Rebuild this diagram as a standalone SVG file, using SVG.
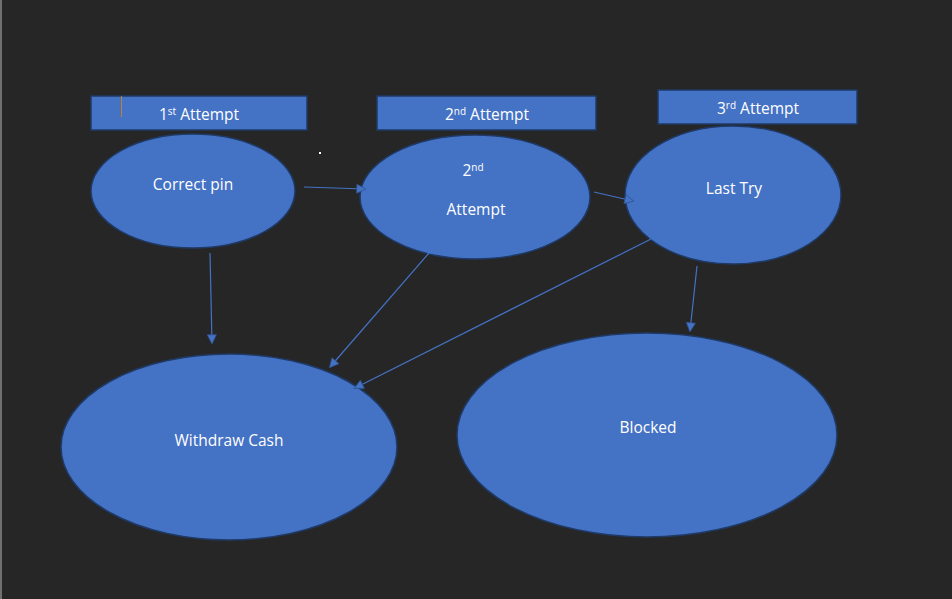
<svg xmlns="http://www.w3.org/2000/svg" width="952" height="599" viewBox="0 0 952 599">
<style>
.bg{fill:#262626}
.shape{fill:#4472C4;stroke:#1F3A66;stroke-width:1.5}
.t{font-family:"Open Sans","Liberation Sans",sans-serif;font-size:15.5px;fill:#ffffff;text-anchor:middle}
.sup{font-size:10px}
.conn{stroke:#4472C4;stroke-width:1.2;fill:none;marker-end:url(#ah)}
</style>
<defs>
<marker id="ah" viewBox="0 0 12 12" refX="10" refY="6" markerWidth="11" markerHeight="11" markerUnits="userSpaceOnUse" orient="auto"><path d="M1,1 L11,6 L1,11 z" fill="#4472C4" stroke="#2F528F" stroke-width="0.8"/></marker>
</defs>
<rect class="bg" x="0" y="0" width="952" height="599"/>
<line x1="1" y1="0" x2="1" y2="599" stroke="#8a8a8a" stroke-width="1.5"/>
<g id="label1"><rect class="shape" x="91" y="96" width="216" height="34"/><text class="t" x="199" y="120">1<tspan class="sup" dy="-5">st</tspan><tspan dy="5"> Attempt</tspan></text></g>
<line x1="121.5" y1="96" x2="121.5" y2="117" stroke="#c08030" stroke-width="1"/>
<g id="label2"><rect class="shape" x="377" y="96" width="219" height="34"/><text class="t" x="487" y="120">2<tspan class="sup" dy="-5">nd</tspan><tspan dy="5"> Attempt</tspan></text></g>
<g id="label3"><rect class="shape" x="658" y="90" width="199" height="34"/><text class="t" x="758" y="114">3<tspan class="sup" dy="-5">rd</tspan><tspan dy="5"> Attempt</tspan></text></g>
<rect x="319" y="152" width="2" height="2" fill="#ffffff"/>
<g id="correct"><ellipse class="shape" cx="193" cy="191" rx="102" ry="57"/><text class="t" x="193" y="190">Correct pin</text></g>
<g id="second"><ellipse class="shape" cx="475" cy="197" rx="115" ry="62"/><text class="t" x="473" y="176">2<tspan class="sup" dy="-5">nd</tspan></text><text class="t" x="476" y="215">Attempt</text></g>
<g id="last"><ellipse class="shape" cx="733" cy="195" rx="108" ry="69"/><text class="t" x="734" y="194">Last Try</text></g>
<g id="withdraw"><ellipse class="shape" cx="229" cy="447" rx="168" ry="93"/><text class="t" x="229" y="446">Withdraw Cash</text></g>
<g id="blocked"><ellipse class="shape" cx="647" cy="435" rx="190" ry="102"/><text class="t" x="648" y="433">Blocked</text></g>
<g id="connectors">
<line class="conn" x1="304" y1="187" x2="365" y2="189"/>
<line class="conn" x1="594" y1="192" x2="633" y2="201"/>
<line class="conn" x1="210" y1="253" x2="212" y2="343"/>
<line class="conn" x1="429" y1="253" x2="330" y2="367"/>
<line class="conn" x1="651" y1="239" x2="355" y2="388"/>
<line class="conn" x1="697" y1="266" x2="690" y2="331"/>
</g>
</svg>
